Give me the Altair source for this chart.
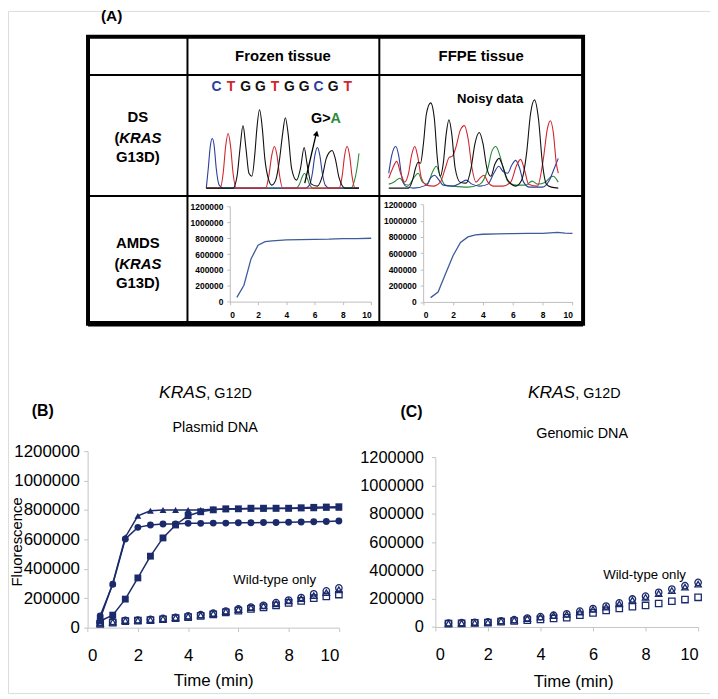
import altair as alt
import pandas as pd

# ------------------------------------------------------------------ data
# Panel B / C time points (min)
times = [0.5, 1, 1.5, 2, 2.5, 3, 3.5, 4, 4.5, 5, 5.5, 6, 6.5, 7, 7.5, 8, 8.5, 9, 9.5, 10]

# Panel B (plasmid DNA), fluorescence in thousands
b_tri_mut = [60, 300, 615, 760, 795, 800, 800, 800, 800, 805, 805, 806, 808, 808, 810, 810, 812, 812, 815, 815]
b_circ_mut = [80, 295, 603, 682, 698, 705, 705, 709, 709, 711, 711, 713, 713, 715, 715, 717, 718, 720, 722, 725]
b_sq_mut = [45, 85, 194, 338, 486, 610, 698, 761, 788, 801, 808, 808, 812, 812, 812, 812, 815, 818, 820, 822]
b_circ_wt = [35, 42, 50, 52, 56, 63, 70, 80, 88, 98, 113, 127, 140, 152, 170, 188, 205, 230, 250, 270]
b_tri_wt = [30, 38, 48, 50, 54, 60, 68, 77, 85, 95, 110, 123, 136, 148, 164, 182, 198, 218, 238, 258]
b_sq_wt = [25, 34, 44, 47, 51, 57, 64, 72, 80, 90, 104, 116, 128, 138, 152, 168, 182, 200, 212, 225]

# Panel C (genomic DNA), fluorescence in thousands
c_circ_wt = [28, 30, 33, 36, 44, 52, 63, 73, 83, 93, 112, 130, 148, 170, 198, 218, 245, 268, 292, 315]
c_tri_wt = [25, 27, 30, 33, 42, 49, 60, 70, 80, 89, 106, 124, 141, 163, 190, 210, 237, 258, 282, 303]
c_sq_wt = [24, 26, 29, 31, 37, 42, 48, 54, 60, 65, 84, 100, 117, 131, 143, 152, 166, 182, 194, 210]

# Panel A, AMDS curves (thousands)
fz_t = [0.5, 1, 1.5, 2, 2.5, 3, 4, 5, 6, 7, 8, 9, 10]
fz_v = [54, 207, 538, 712, 757, 766, 778, 782, 786, 788, 794, 795, 799]
ff_t = [0.5, 1, 1.5, 2, 2.5, 3, 3.5, 4, 5, 6, 7, 8, 9, 9.5, 10]
ff_v = [53, 122, 346, 570, 732, 801, 826, 834, 838, 842, 846, 846, 858, 848, 846]

# Panel A, sequencing traces (scan position, signal)
fz_blue_x = [0, 2, 4, 6, 8, 10, 13, 17, 100, 104, 107, 109.5, 112, 114.5, 117, 120, 124, 154]
fz_blue_y = [0, 200, 420, 500, 420, 200, 30, 0, 0, 30, 150, 330, 410, 330, 150, 30, 0, 0]
fz_red_x = [0, 14, 17, 19.5, 22, 24.5, 27, 30, 60, 63, 66, 68.7, 71.3, 74, 77, 134, 137, 139.5, 142, 144.5, 147, 150, 154]
fz_red_y = [0, 0, 150, 420, 550, 420, 150, 0, 0, 120, 330, 420, 330, 120, 0, 0, 120, 330, 420, 330, 120, 0, 0]
fz_black_x = [0, 27, 31, 34, 37, 40, 43, 46, 49, 51, 53.7, 56.5, 59, 63, 66, 70, 74, 77, 79.7, 82.5,
              86, 91, 95, 98.7, 101.5, 106, 112, 117, 121, 124, 127, 130, 134, 140, 154]
fz_black_y = [0, 0, 120, 400, 630, 400, 150, 120, 350, 600, 790, 600, 300, 80, 30, 80, 300, 550, 710, 550,
              200, 80, 200, 410, 250, 40, 20, 120, 300, 360, 380, 300, 100, 0, 0]
fz_green_x = [0, 90, 94, 97, 99, 101, 104, 108, 146, 149, 152, 154]
fz_green_y = [0, 0, 40, 120, 150, 120, 40, 0, 0, 60, 200, 350]

ff_black_x = [0, 20, 24, 27, 29.7, 32, 35, 38, 42.3, 46, 49, 52, 55, 58, 60.7, 63.5, 67, 72, 78, 83,
              87, 91.3, 95, 99, 103, 107, 111.3, 115, 120, 128, 134, 139, 143, 147, 151, 155, 159, 164, 171]
ff_black_y = [0, 0, 80, 200, 260, 250, 450, 750, 860, 700, 300, 120, 250, 550, 690, 550, 200, 60, 50, 200,
              450, 560, 450, 200, 120, 240, 300, 220, 80, 20, 80, 350, 750, 890, 700, 250, 40, 10, 0]
ff_red_x = [0, 4, 8, 12, 16, 20, 23, 26.3, 29, 33, 38, 45, 52, 57, 61, 64, 68, 72, 76.3, 80,
            84, 88, 92, 96, 100, 106, 115, 123, 129, 133, 137, 141, 150, 156, 160, 163, 166, 169, 171]
ff_red_y = [100, 200, 270, 150, 60, 150, 330, 420, 330, 100, 30, 20, 60, 200, 310, 320, 420, 580, 630, 500,
            200, 60, 100, 130, 60, 20, 20, 60, 230, 290, 180, 40, 20, 300, 600, 680, 560, 250, 150]
ff_blue_x = [0, 3, 7, 10, 13, 17, 25, 38, 42, 46.3, 50, 55, 65, 72, 78, 84, 92, 100, 106, 111,
             115, 120, 124, 128, 132, 136, 142, 155, 162, 167, 171]
ff_blue_y = [150, 330, 420, 330, 120, 20, 0, 30, 100, 130, 90, 30, 20, 50, 80, 40, 20, 40, 150, 220,
             170, 150, 230, 280, 200, 60, 10, 10, 80, 200, 300]
ff_green_x = [0, 5, 11.3, 16, 20, 25, 29.7, 34, 39, 44, 48, 52, 57, 65, 80, 92, 100, 104, 108, 112,
              116, 120, 128, 138, 144.7, 150, 158, 163, 166.3, 169, 171]
ff_green_y = [40, 60, 100, 40, 30, 100, 150, 60, 40, 160, 220, 120, 30, 20, 10, 40, 200, 370, 420, 330,
              180, 70, 30, 30, 70, 40, 60, 110, 120, 90, 60]

seq_letters = ["C", "T", "G", "G", "T", "G", "G", "C", "G", "T"]
bases = ["A", "C", "G", "T"]
base_colors = ["#2a8a3a", "#2b3f9c", "#111111", "#d0262d"]

col_headers = ["Frozen tissue", "FFPE tissue"]
row_heads = ["DS", "AMDS"]
gene = "KRAS"
row_mut = "G13D)"
panel_titles = ["Plasmid DNA", "Genomic DNA"]
wt_label = "Wild-type only"

# ------------------------------------------------------------------ layout
W, H = 708, 688
def X(px):
    return px - 8
def Y(py):
    return py - 8

NAVY = "#1b2a6b"
ONE = pd.DataFrame({"k": [0]})
FONT = "Liberation Sans"


def txt(s, x, y, size, bold=False, italic=False, color="black", align="center", angle=0):
    return alt.Chart(ONE).mark_text(
        text=s, fontSize=size, fontWeight="bold" if bold else "normal",
        fontStyle="italic" if italic else "normal", color=color, align=align,
        baseline="middle", angle=angle, font=FONT,
    ).encode(x=alt.value(X(x)), y=alt.value(Y(y)))


def rule(x1, y1, x2, y2, w, color="black"):
    return alt.Chart(ONE).mark_rule(strokeWidth=w, color=color).encode(
        x=alt.value(X(x1)), y=alt.value(Y(y1)), x2=alt.value(X(x2)), y2=alt.value(Y(y2)))


layers = []

# ---- table frame
layers.append(alt.Chart(ONE).mark_rect(fillOpacity=0, stroke="black", strokeWidth=4).encode(
    x=alt.value(X(88.7)), x2=alt.value(X(588)), y=alt.value(Y(34)), y2=alt.value(Y(323.5))))
layers.append(rule(88.7, 323.5, 588, 323.5, 5.5))
layers.append(rule(88.7, 72.7, 588, 72.7, 2))
layers.append(rule(88.7, 194.7, 588, 194.7, 2.2))
layers.append(rule(189, 34, 189, 323.5, 2))
layers.append(rule(382.5, 34, 382.5, 323.5, 2))

# ---- table texts
layers.append(txt("(A)", 112.5, 13, 15.5, bold=True))
layers.append(txt(col_headers[0], 285.3, 54, 15, bold=True))
layers.append(txt(col_headers[1], 485.2, 54, 15, bold=True))
for head, y0 in [(row_heads[0], 115), (row_heads[1], 242)]:
    layers.append(txt(head, 139, y0, 15, bold=True))
    layers.append(txt("(", 115.3, y0 + 21, 15, bold=True, align="left"))
    layers.append(txt(gene, 120.3, y0 + 21, 15, bold=True, italic=True, align="left"))
    layers.append(txt(row_mut, 139, y0 + 40, 15, bold=True))
layers.append(txt("Noisy data", 494.3, 96.7, 13.2, bold=True))
layers.append(txt("G>", 333.3, 116.7, 14.5, bold=True, align="right"))
layers.append(txt("A", 333.3, 116.7, 14.5, bold=True, align="left", color="#2a8a3a"))

# sequence letters
seq_df = pd.DataFrame({"idx": list(range(len(seq_letters))), "letter": seq_letters})
layers.append(alt.Chart(seq_df).mark_text(fontSize=14, fontWeight="bold", baseline="middle", font=FONT).encode(
    x=alt.X("idx:Q", scale=alt.Scale(domain=[0, 9], range=[X(218.3), X(350.7)], nice=False, zero=False), axis=None),
    y=alt.value(Y(85)),
    text="letter:N",
    color=alt.Color("letter:N", scale=alt.Scale(domain=bases, range=base_colors), legend=None),
))


def trace_df(parts):
    frames = []
    for base, xs, ys in parts:
        frames.append(pd.DataFrame({"x": xs, "y": ys, "base": base}))
    return pd.concat(frames, ignore_index=True)


def trace_layer(df, xdom, xr, ydom, yr):
    return alt.Chart(df).mark_line(strokeWidth=1.1, interpolate="monotone").encode(
        x=alt.X("x:Q", scale=alt.Scale(domain=xdom, range=xr, nice=False, zero=False), axis=None),
        y=alt.Y("y:Q", scale=alt.Scale(domain=ydom, range=yr, nice=False, zero=False), axis=None),
        color=alt.Color("base:N", scale=alt.Scale(domain=bases, range=base_colors), legend=None),
        detail="base:N",
    )


fz_df = trace_df([("A", fz_green_x, fz_green_y), ("C", fz_blue_x, fz_blue_y),
                  ("T", fz_red_x, fz_red_y), ("G", fz_black_x, fz_black_y)])
ff_df = trace_df([("A", ff_green_x, ff_green_y), ("C", ff_blue_x, ff_blue_y),
                  ("T", ff_red_x, ff_red_y), ("G", ff_black_x, ff_black_y)])
layers.append(trace_layer(fz_df, [0, 154], [X(208), X(362)], [0, 800], [Y(186.7), Y(106.7)]))
layers.append(trace_layer(ff_df, [0, 171], [X(392), X(563)], [0, 900], [Y(186.7), Y(96.7)]))

# arrow G>A
layers.append(rule(307.3, 181.7, 318.9, 131.5, 1.3))
layers.append(alt.Chart(ONE).mark_point(shape="triangle-up", filled=True, size=38, angle=13,
                                        color="black", opacity=1).encode(
    x=alt.value(X(319.2)), y=alt.value(Y(131.5))))

# ---- mini AMDS charts
Y_TICKS = [0, 200000, 400000, 600000, 800000, 1000000, 1200000]
X_TICKS = [0, 2, 4, 6, 8, 10]


def mini(tlist, vlist, x0, x1, y0, y1):
    df = pd.DataFrame({"t": tlist, "v": [v * 1000 for v in vlist]})
    return alt.Chart(df).mark_line(color="#3f5b9a", strokeWidth=1.3).encode(
        x=alt.X("t:Q", scale=alt.Scale(domain=[0, 10], range=[X(x0), X(x1)], nice=False, zero=False),
                axis=alt.Axis(orient="bottom", offset=Y(y0) - H, values=X_TICKS, labelFontSize=8.5,
                              labelFontWeight="bold", labelColor="black", domainColor="#bdbdbd",
                              tickColor="#bdbdbd", tickSize=3, labelPadding=6, grid=False, title=None,
                              labelFont=FONT)),
        y=alt.Y("v:Q", scale=alt.Scale(domain=[0, 1200000], range=[Y(y0), Y(y1)], nice=False, zero=False),
                axis=alt.Axis(orient="left", offset=-X(x0), values=Y_TICKS, format="d", labelFontSize=8.5,
                              labelFontWeight="bold", labelColor="black", domainColor="#bdbdbd",
                              tickColor="#bdbdbd", tickSize=3, labelPadding=4, grid=False, title=None,
                              labelFont=FONT)),
    )


layers.append(mini(fz_t, fz_v, 231.7, 374.3, 301.2, 205.2))
layers.append(mini(ff_t, ff_v, 426.7, 577.3, 301.5, 203.3))

# ---- panels B and C
SHAPE_DOM = ["circle", "triangle", "square"]
SHAPE_RNG = ["circle", "triangle-up", "square"]


def long_df(series):
    frames = []
    for name, vals in series:
        frames.append(pd.DataFrame({"t": times, "v": [v * 1000 for v in vals], "ser": name}))
    return pd.concat(frames, ignore_index=True)


def panel(mut, wt, x0, x1, y0, y1, label_size, label_pad, ytitle, title_pos, xtitle_pos):
    xs = alt.Scale(domain=[0, 10], range=[X(x0), X(x1)], nice=False, zero=False)
    ys = alt.Scale(domain=[0, 1200000], range=[Y(y0), Y(y1)], nice=False, zero=False)
    shape = alt.Shape("ser:N", scale=alt.Scale(domain=SHAPE_DOM, range=SHAPE_RNG), legend=None)
    yaxis_kw = dict(orient="left", offset=-X(x0), values=Y_TICKS, format="d", labelFontSize=label_size,
                    labelColor="black", domainColor="#c4c4c4", tickColor="#c4c4c4", tickSize=4,
                    labelPadding=label_pad, grid=False, labelFont=FONT)
    if ytitle:
        yaxis_kw.update(title=ytitle, titleFontSize=15, titleFontWeight="normal", titleAngle=270,
                        titleX=X(title_pos[0]) - X(x0), titleY=Y(title_pos[1]), titleAlign="center",
                        titleBaseline="middle", titleFont=FONT, titleColor="black")
    else:
        yaxis_kw.update(title=None)
    yaxis = alt.Axis(**yaxis_kw)
    xaxis = alt.Axis(orient="bottom", offset=Y(y0) - H, values=X_TICKS, labelFontSize=label_size,
                     labelColor="black", domainColor="#c4c4c4", tickColor="#c4c4c4", tickSize=4,
                     labelPadding=16, grid=False, title="Time (min)", titleFontSize=17,
                     titleFontWeight="normal", titleX=X(xtitle_pos[0]), titleY=Y(xtitle_pos[1]) - Y(y0),
                     titleAlign="center", titleBaseline="middle", titleFont=FONT, titleColor="black",
                     labelFont=FONT)
    parts = []
    if mut:
        mdf = long_df(mut)
        parts.append(alt.Chart(mdf).mark_line(color=NAVY, strokeWidth=1.5).encode(
            x=alt.X("t:Q", scale=xs, axis=xaxis),
            y=alt.Y("v:Q", scale=ys, axis=yaxis),
            detail="ser:N"))
        parts.append(alt.Chart(mdf).mark_point(filled=True, color=NAVY, size=48, opacity=1).encode(
            x=alt.X("t:Q", scale=xs, axis=xaxis), y=alt.Y("v:Q", scale=ys, axis=yaxis), shape=shape))
    wdf = long_df(wt)
    parts.append(alt.Chart(wdf).mark_point(filled=False, color=NAVY, size=42, strokeWidth=1.3, opacity=1).encode(
        x=alt.X("t:Q", scale=xs, axis=xaxis),
        y=alt.Y("v:Q", scale=ys, axis=yaxis),
        shape=shape))
    return alt.layer(*parts)


layers.append(panel([("triangle", b_tri_mut), ("circle", b_circ_mut), ("square", b_sq_mut)],
                    [("square", b_sq_wt), ("triangle", b_tri_wt), ("circle", b_circ_wt)],
                    88.3, 341.7, 630, 452, 17, 4.3, "Fluorescence", (16.5, 543), (215, 683)))
layers.append(panel(None,
                    [("square", c_sq_wt), ("triangle", c_tri_wt), ("circle", c_circ_wt)],
                    439, 704, 629.3, 458.3, 16.5, 8, None, None, (578, 684)))

# panel texts
layers.append(txt("(B)", 43, 412, 16, bold=True))
layers.append(txt("(C)", 415, 413, 16, bold=True))
layers.append(txt(gene, 208, 393, 17.5, italic=True, align="right"))
layers.append(txt(", G12D", 208, 394, 14.5, align="left"))
layers.append(txt(gene, 580, 393, 17.5, italic=True, align="right"))
layers.append(txt(", G12D", 580, 394, 14.5, align="left"))
layers.append(txt(panel_titles[0], 217, 429, 14.5))
layers.append(txt(panel_titles[1], 587, 435, 14.5))
layers.append(txt(wt_label, 277, 582, 13.3))
layers.append(txt(wt_label, 650, 577, 13.3))

chart = alt.layer(*layers).resolve_scale(
    x="independent", y="independent"
).properties(
    width=W, height=H, autosize=alt.AutoSizeParams(type="none"), padding=0,
).configure_view(stroke="transparent").configure(font=FONT)

chart.save("out.html", embed_options={"renderer": "svg", "actions": False})
